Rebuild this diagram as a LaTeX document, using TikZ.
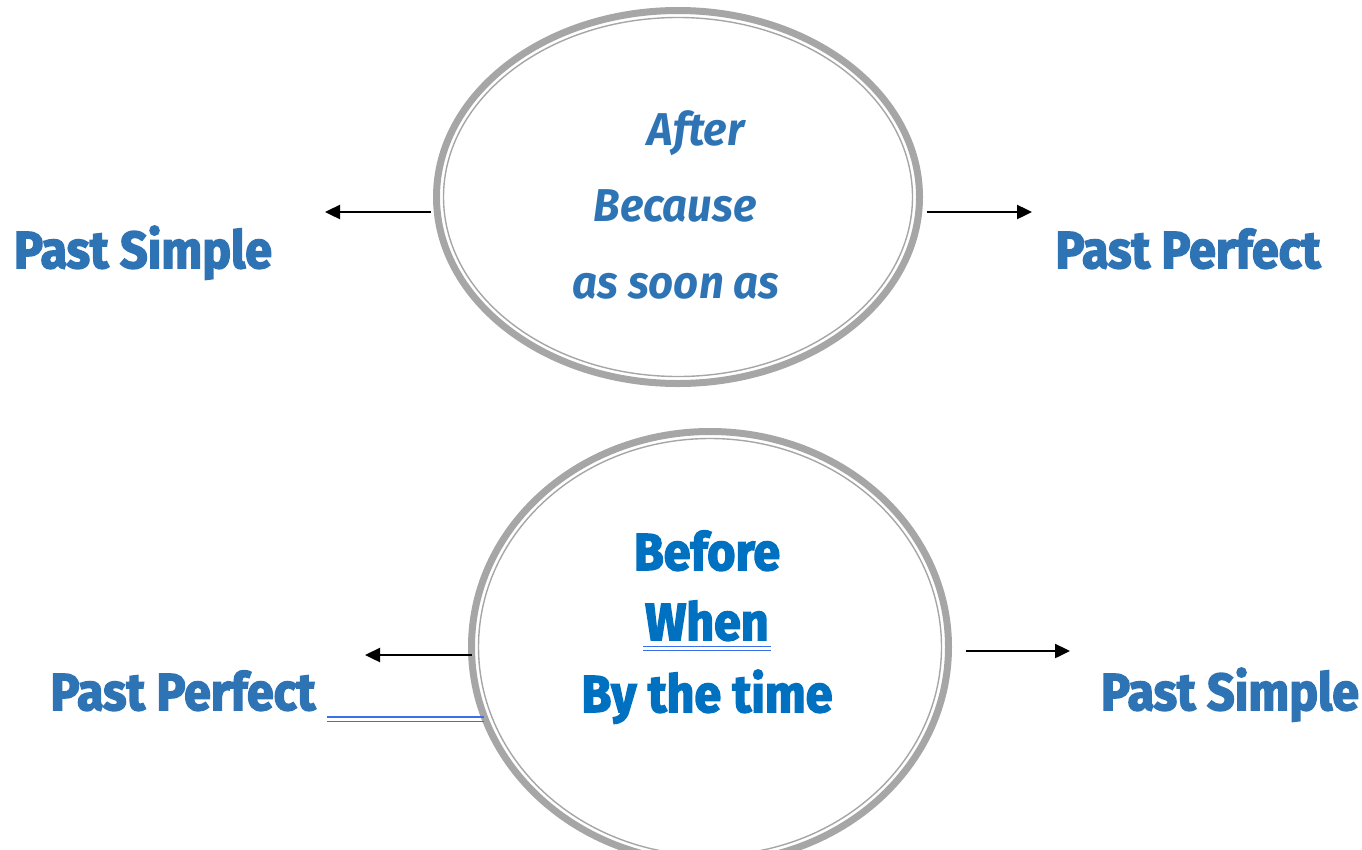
\documentclass[tikz,border=0pt]{standalone}
\usepackage{fontspec}
\setmainfont{Fira Sans}[BoldFeatures={FakeBold=3}]
\usetikzlibrary{shapes.geometric,arrows.meta}
\definecolor{topblue}{HTML}{2E74B5}
\definecolor{midblue}{HTML}{0070C0}
\definecolor{ringgray}{HTML}{A6A6A6}
\definecolor{ulblue}{HTML}{3B6EEA}
\tikzset{
  ring/.style={ellipse, draw=ringgray, line width=7pt, inner sep=0pt, outer sep=0pt},
  innerring/.style={draw=ringgray, line width=1.4pt},
  side/.style={anchor=base, text=topblue, font=\fontsize{52}{60}\selectfont\bfseries, inner sep=0pt},
  toptxt/.style={anchor=base, text=topblue, font=\fontsize{46}{56}\selectfont\bfseries\itshape, inner sep=0pt},
  bottxt/.style={anchor=base, text=midblue, font=\fontsize{52}{60}\selectfont\bfseries, inner sep=0pt},
  arr/.style={draw=black, line width=2.4pt, -{Triangle[length=15pt,width=14pt]}},
  ul/.style={draw=ulblue, line width=1.5pt}
}
\begin{document}
\begin{tikzpicture}[x=1pt,y=-1pt]
\useasboundingbox (0,0) rectangle (1362,849);
\begin{scope}
\clip (0,0) rectangle (1362,849);
% top ellipse
\node[ring, minimum width=483pt, minimum height=373pt] (topell) at (678,197) {};
\draw[innerring] (678,197) ellipse [x radius=234.5pt, y radius=179.5pt];
% bottom ellipse
\node[ring, minimum width=477pt, minimum height=431pt] (botell) at (710,647) {};
\draw[innerring] (710,647) ellipse [x radius=231.5pt, y radius=208.5pt];
\end{scope}

% top texts
\node[toptxt] (after) at (696,145) {\scalebox{0.95}[1]{After}};
\node[toptxt] (because) at (675,221) {\scalebox{0.95}[1]{Because}};
\node[toptxt] (assoon) at (676,298) {\scalebox{0.95}[1]{as soon as}};
\node[side] (tlps) at (143,268) {\scalebox{0.93}[1]{Past Simple}};
\node[side] (trpp) at (1188,268) {\scalebox{0.93}[1]{Past Perfect}};

% bottom texts
\node[bottxt] (before) at (707,570) {\scalebox{0.93}[1]{Before}};
\node[bottxt] (when) at (707,640) {\scalebox{0.93}[1]{When}};
\node[bottxt] (bytime) at (707,712) {\scalebox{0.93}[1]{By the time}};
\node[side] (blpp) at (183,710) {\scalebox{0.93}[1]{Past Perfect}};
\node[side] (brps) at (1230,710) {\scalebox{0.93}[1]{Past Simple}};

% underlines
\draw[ul] (643,646.5) -- (771,646.5);
\draw[ul] (643,650.5) -- (771,650.5);
\coordinate (ulA) at (327,717);
\coordinate (ulB) at (327,721.5);
\draw[ul] (ulA) -- (ulA -| botell.197);
\draw[ul] (ulB) -- (ulB -| botell.197);

% arrows
\coordinate (tl) at (325,212);
\coordinate (tr) at (1032,212);
\coordinate (bl) at (365,655);
\coordinate (br) at (1070,651);
\draw[arr] ([xshift=-6pt]topell.west |- tl) -- (tl);
\draw[arr] ([xshift=7pt]topell.east |- tr) -- (tr);
\draw[arr] (botell.west |- bl) -- (bl);
\draw[arr] ([xshift=17pt]botell.east |- br) -- (br);
\end{tikzpicture}
\end{document}
